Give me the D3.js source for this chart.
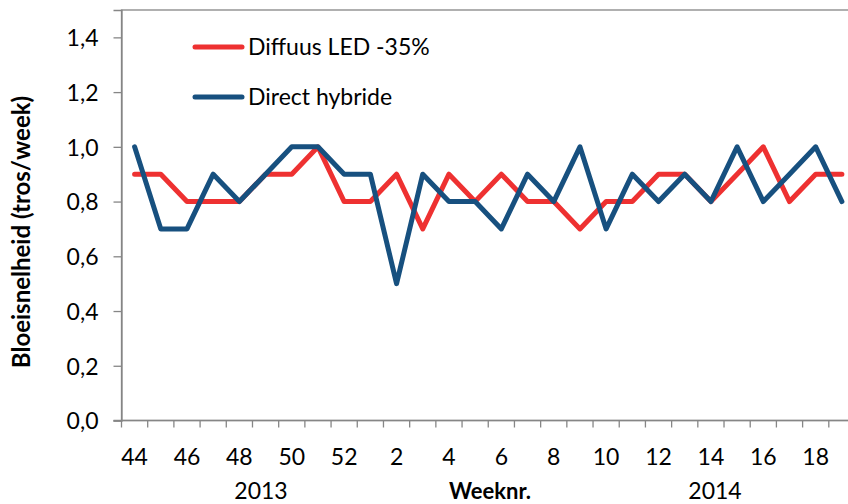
<!DOCTYPE html>
<html><head><meta charset="utf-8">
<script src="https://cdn.jsdelivr.net/npm/d3@7"></script>
<style>body{margin:0;background:#fff}svg{display:block}text{font-family:Lato,"Open Sans",sans-serif}</style>
</head><body><svg id="c" width="848" height="504"></svg>
<script>
const weeks = [44,45,46,47,48,49,50,51,52,1,2,3,4,5,6,7,8,9,10,11,12,13,14,15,16,17,18,19];
const diffuusLED = [0.9,0.9,0.8,0.8,0.8,0.9,0.9,1.0,0.8,0.8,0.9,0.7,0.9,0.8,0.9,0.8,0.8,0.7,0.8,0.8,0.9,0.9,0.8,0.9,1.0,0.8,0.9,0.9];
const directHybride = [1.0,0.7,0.7,0.9,0.8,0.9,1.0,1.0,0.9,0.9,0.5,0.9,0.8,0.8,0.7,0.9,0.8,1.0,0.7,0.9,0.8,0.9,0.8,1.0,0.8,0.9,1.0,0.8];
const yTicks = [0,0.2,0.4,0.6,0.8,1.0,1.2,1.4];
const seriesNames = ["Diffuus LED -35%","Direct hybride"];
const seriesColors = ["#ee3131","#17507f"];
const yearLabels = ["2013","2014"];
const xTitle = "Weeknr.";
const yTitle = "Bloeisnelheid (tros/week)";

const svg = d3.select("#c");
const L = 121.5, R = 855, T = 10, B = 420.5;
const x = d3.scaleBand().domain(d3.range(weeks.length)).range([L, R]).padding(0);
const y = d3.scaleLinear().domain([0,1.5]).range([B, T]);
const cx = i => x(i) + x.bandwidth()/2;
const axisCol = "#868686";
const FS = 23;

// plot frame
svg.append("rect").attr("x", L).attr("y", T).attr("width", R-L).attr("height", B-T)
  .attr("fill","none").attr("stroke", axisCol).attr("stroke-width",1.3);

// y axis
const yAxis = d3.axisLeft(y).tickValues(yTicks).tickSize(8).tickPadding(15)
  .tickFormat(d => d3.format(".1f")(d).replace(".", ","));
const gy = svg.append("g").attr("transform", `translate(${L},0)`).call(yAxis);
gy.select(".domain").attr("stroke", axisCol).attr("stroke-width",1.3);
gy.selectAll(".tick line").attr("stroke", axisCol).attr("stroke-width",1.3);
gy.selectAll(".tick text").attr("font-size", FS).attr("fill","#000").attr("dy","0.36em");

// x axis ticks at band boundaries
const bounds = d3.range(weeks.length + 1).map(i => L + i * x.bandwidth());
svg.append("line").attr("x1", L-8).attr("x2", R).attr("y1", B).attr("y2", B).attr("stroke", axisCol).attr("stroke-width",1.3);
svg.selectAll(".xt").data(bounds).join("line").attr("class","xt")
  .attr("x1", d=>d).attr("x2", d=>d).attr("y1", B).attr("y2", B+7).attr("stroke", axisCol).attr("stroke-width",1.3);
svg.selectAll(".xl").data(weeks.map((w,i)=>({w,i})).filter(d=>d.i%2===0)).join("text").attr("class","xl")
  .attr("x", d=>cx(d.i)).attr("y", 465).attr("text-anchor","middle").attr("font-size",FS).text(d=>d.w);

// year labels and axis title
svg.append("text").attr("x", 261).attr("y", 499).attr("text-anchor","middle").attr("font-size",FS).text(yearLabels[0]);
svg.append("text").attr("x", 715).attr("y", 499).attr("text-anchor","middle").attr("font-size",FS).text(yearLabels[1]);
svg.append("text").attr("x", 490).attr("y", 499).attr("text-anchor","middle").attr("font-size",22).attr("font-weight","bold").text(xTitle);
svg.append("text").attr("transform","translate(30,232) rotate(-90)").attr("text-anchor","middle").attr("font-size",24).attr("font-weight","bold").text(yTitle);

// lines
const line = d3.line().x((d,i)=>cx(i)).y(d=>y(d));
[diffuusLED, directHybride].forEach((s,k)=>{
  svg.append("path").datum(s).attr("d", line).attr("fill","none")
    .attr("stroke", seriesColors[k]).attr("stroke-width",5).attr("stroke-linejoin","round").attr("stroke-linecap","round");
});

// legend
const legY = [47, 97];
seriesNames.forEach((n,k)=>{
  svg.append("line").attr("x1",195).attr("x2",242).attr("y1",legY[k]).attr("y2",legY[k])
    .attr("stroke",seriesColors[k]).attr("stroke-width",5).attr("stroke-linecap","round");
  svg.append("text").attr("x",248).attr("y",legY[k]).attr("dy","0.36em").attr("font-size",FS).text(n);
});
</script></body></html>
